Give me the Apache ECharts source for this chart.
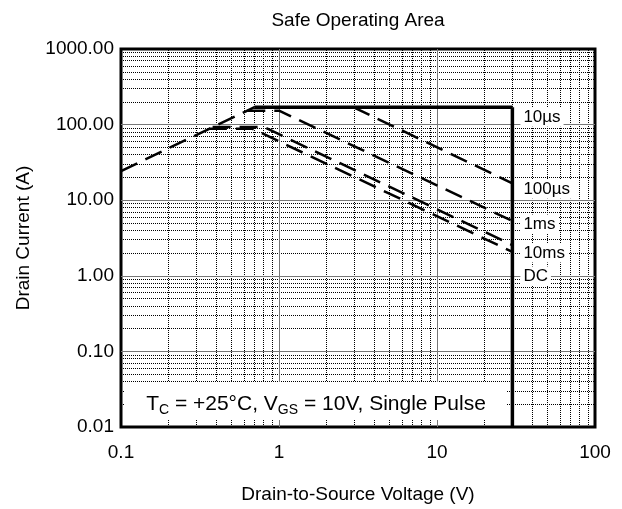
<!DOCTYPE html>
<html><head><meta charset="utf-8">
<script src="https://cdn.jsdelivr.net/npm/echarts@6/dist/echarts.min.js"></script>
<style>html,body{margin:0;padding:0;background:#fff}#c{width:622px;height:509px}</style>
</head><body><div id="c"></div>
<script>
// ---- data ----
const xTickLabels = ['0.1', '1', '10', '100'];
const yTickLabels = ['0.01', '0.10', '1.00', '10.00', '100.00', '1000.00'];
const curveNames = ['10µs', '100µs', '1ms', '10ms', 'DC'];
const rdsLimit = [[0.1, 24.3], [0.7, 170]];
const sw10us = [[0.7, 170], [30, 170]];
const sw100us = [[2.95, 170], [30, 16.7]];
const sw1ms = [[0.63, 153], [1.0, 153], [30, 5.3]];
const sw10ms = [[0.38, 93], [0.80, 93], [30, 2.55]];
const swDC = [[0.36, 88], [0.68, 88], [30, 2.07]];
const vdssLimit = [[30, 170], [30, 0.01]];
const xMajorGrid = [1, 10];
const xMinorGrid = [0.2, 0.3, 0.4, 0.5, 0.6, 0.7, 0.8, 0.9, 2, 3, 4, 5, 6, 7, 8, 9, 20, 30, 40, 50, 60, 70, 80, 90];
const yMajorGrid = [0.1, 1, 10, 100];
const yMinorGrid = [0.02, 0.03, 0.04, 0.05, 0.06, 0.07, 0.08, 0.09, 0.2, 0.3, 0.4, 0.5, 0.6, 0.7, 0.8, 0.9,
  2, 3, 4, 5, 6, 7, 8, 9, 20, 30, 40, 50, 60, 70, 80, 90, 200, 300, 400, 500, 600, 700, 800, 900];

// ---- styles ----
const FONT = 'Liberation Sans';
const labelShift = [10, 6, 3, 8, 24];
const dashPattern = [18, 9];

const minorStyle = { type: 'dotted', color: '#000', width: 1 };
const majorStyle = { type: 'solid', color: '#777', width: 1 };
const gridMarks = []
  .concat(xMinorGrid.map(v => ({ xAxis: v, lineStyle: minorStyle })))
  .concat(yMinorGrid.map(v => ({ yAxis: v, lineStyle: minorStyle })))
  .concat(xMajorGrid.map(v => ({ xAxis: v, lineStyle: majorStyle })))
  .concat(yMajorGrid.map(v => ({ yAxis: v, lineStyle: majorStyle })));

function endLbl(i) {
  return {
    show: true, formatter: curveNames[i], color: '#000', fontFamily: FONT, fontSize: 17,
    backgroundColor: '#fff', padding: [1, 3, 1, 3], distance: 8, offset: [0, labelShift[i]]
  };
}
function curve(name, data, dashed, i) {
  const s = {
    name: name, type: 'line', data: data, showSymbol: false, symbol: 'none', z: 5,
    lineStyle: { color: '#000', width: dashed ? 2.5 : 3.5, type: dashed ? dashPattern : 'solid', cap: 'butt' },
    animation: false, silent: true
  };
  if (i !== undefined) s.endLabel = endLbl(i);
  return s;
}

const chart = echarts.init(document.getElementById('c'));
chart.setOption({
  backgroundColor: '#fff',
  animation: false,
  title: {
    text: 'Safe Operating Area', left: 353, top: 6, textAlign: 'center',
    textStyle: { fontFamily: FONT, fontSize: 19, fontWeight: 'normal', color: '#000' }
  },
  grid: { left: 121, right: 27, top: 49, bottom: 81, show: true, borderColor: '#000', borderWidth: 3, containLabel: false },
  xAxis: {
    type: 'log', logBase: 10, min: 0.1, max: 100,
    axisLine: { show: false }, axisTick: { show: false }, splitLine: { show: false },
    axisLabel: { margin: 16, fontFamily: FONT, fontSize: 19, color: '#000', formatter: (v, i) => xTickLabels[i] },
    name: 'Drain-to-Source Voltage (V)', nameLocation: 'middle', nameGap: 58,
    nameTextStyle: { fontFamily: FONT, fontSize: 19, color: '#000' }
  },
  yAxis: {
    type: 'log', logBase: 10, min: 0.01, max: 1000,
    axisLine: { show: false }, axisTick: { show: false }, splitLine: { show: false },
    axisLabel: { margin: 7, fontFamily: FONT, fontSize: 19, color: '#000', formatter: (v, i) => yTickLabels[i] },
    name: 'Drain Current (A)', nameLocation: 'middle', nameGap: 88,
    nameTextStyle: { fontFamily: FONT, fontSize: 19, color: '#000' }
  },
  graphic: [
    { type: 'rect', z: 20, shape: { x: 125, y: 382, width: 381, height: 38 }, style: { fill: '#fff' } },
    { type: 'text', z: 21, x: 316, y: 404,
      style: {
        text: '{a|T}{s|C}{a| = +25°C, V}{s|GS}{a| = 10V, Single Pulse}',
        align: 'center', verticalAlign: 'middle', fill: '#000',
        rich: {
          a: { fontFamily: FONT, fontSize: 21, fill: '#000' },
          s: { fontFamily: FONT, fontSize: 14, fill: '#000', padding: [13, 0, 0, 0] }
        }
      } }
  ],
  series: [
    { type: 'line', data: [], z: 1, silent: true, animation: false,
      markLine: { silent: true, symbol: ['none', 'none'], label: { show: false }, animation: false, data: gridMarks } },
    curve('RDS', rdsLimit, true),
    curve(curveNames[0], sw10us, false, 0),
    curve('VDSS', vdssLimit, false),
    curve(curveNames[1], sw100us, true, 1),
    curve(curveNames[2], sw1ms, true, 2),
    curve(curveNames[3], sw10ms, true, 3),
    curve(curveNames[4], swDC, true, 4)
  ]
});
</script></body></html>
